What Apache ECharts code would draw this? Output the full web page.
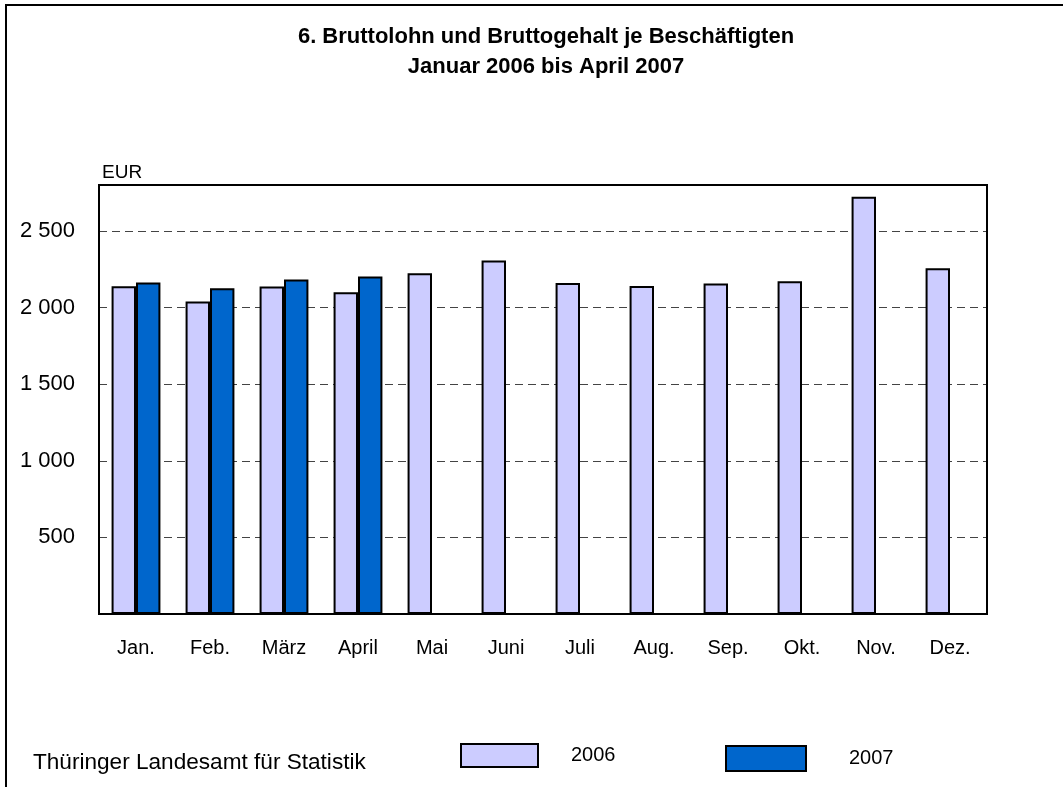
<!DOCTYPE html>
<html>
<head>
<meta charset="utf-8">
<script src="https://cdn.jsdelivr.net/npm/echarts@6/dist/echarts.min.js"></script>
<style>
html, body { margin: 0; padding: 0; background: #fff; }
#chart { width: 1063px; height: 787px; }
</style>
</head>
<body>
<div id="chart"></div>
<script>
var months = ['Jan.', 'Feb.', 'März', 'April', 'Mai', 'Juni', 'Juli', 'Aug.', 'Sep.', 'Okt.', 'Nov.', 'Dez.'];
var values2006 = [2139, 2039, 2137, 2100, 2224, 2307, 2161, 2141, 2157, 2172, 2724, 2257];
var values2007 = [2163, 2126, 2183, 2202, null, null, null, null, null, null, null, null];
var yTicks = [500, 1000, 1500, 2000, 2500];

var font = 'Liberation Sans, Arial, sans-serif';

// "2 500" style labels, no 0 and nothing at the top
function formatEur(v) {
	if (yTicks.indexOf(v) < 0) return '';
	var s = String(v);
	return s.length > 3 ? s.slice(0, s.length - 3) + ' ' + s.slice(-3) : s;
}

var chart = echarts.init(document.getElementById('chart'));

var option = {
	backgroundColor: '#fff',
	animation: false,
	title: {
		text: '6. Bruttolohn und Bruttogehalt je Beschäftigten\nJanuar 2006 bis April 2007',
		left: 541,
		top: 17,
		textAlign: 'center',
		textStyle: { fontFamily: font, fontSize: 22, fontWeight: 'bold', color: '#000', lineHeight: 30 }
	},
	legend: [
		{
			data: ['2006'], left: 460, top: 743, padding: 0, itemWidth: 77, itemHeight: 23,
			icon: 'rect', selectedMode: false,
			textStyle: { fontFamily: font, fontSize: 20, color: '#000', padding: [6, 0, 0, 28] }
		},
		{
			data: ['2007'], left: 725, top: 745, padding: 0, itemWidth: 80, itemHeight: 25,
			icon: 'rect', selectedMode: false,
			textStyle: { fontFamily: font, fontSize: 20, color: '#000', padding: [0, 0, 5, 38] }
		}
	],
	grid: { left: 99, top: 185, right: 76, bottom: 173 },
	xAxis: {
		type: 'category',
		data: months,
		axisLine: { lineStyle: { color: '#000', width: 2 } },
		axisTick: { show: false },
		axisLabel: { fontFamily: font, fontSize: 20, color: '#000', margin: 24 }
	},
	yAxis: {
		type: 'value',
		min: 0, max: 2800, interval: 500,
		axisLine: { show: true, lineStyle: { color: '#000', width: 2 } },
		axisTick: { show: false },
		axisLabel: { fontFamily: font, fontSize: 22, color: '#000', margin: 24, formatter: formatEur },
		splitLine: { lineStyle: { color: '#444', width: 1, type: [8, 5] } }
	},
	series: [
		{
			name: '2006', type: 'bar', data: values2006,
			barWidth: '33%', barGap: '0%',
			itemStyle: { color: '#CCCCFF', borderColor: '#000', borderWidth: 2 }
		},
		{
			name: '2007', type: 'bar', data: values2007,
			barWidth: '33%', barGap: '0%',
			itemStyle: { color: '#0066CC', borderColor: '#000', borderWidth: 2 }
		}
	],
	graphic: [
		// outer frame (top and left only)
		{ type: 'line', shape: { x1: 5, y1: 5, x2: 1063, y2: 5 }, style: { stroke: '#000', lineWidth: 2 } },
		{ type: 'line', shape: { x1: 6, y1: 5, x2: 6, y2: 787 }, style: { stroke: '#000', lineWidth: 2 } },
		// plot box
		{ type: 'rect', z: 100, shape: { x: 99, y: 185, width: 888, height: 429 }, style: { fill: 'none', stroke: '#000', lineWidth: 2 } },
		{
			type: 'text', left: 102, top: 163,
			style: { text: 'EUR', font: '19px ' + font, fill: '#000' }
		},
		{
			type: 'text', left: 33, top: 751,
			style: { text: 'Thüringer Landesamt für Statistik', font: '22.6px ' + font, fill: '#000' }
		}
	]
};

chart.setOption(option);
</script>
</body>
</html>
